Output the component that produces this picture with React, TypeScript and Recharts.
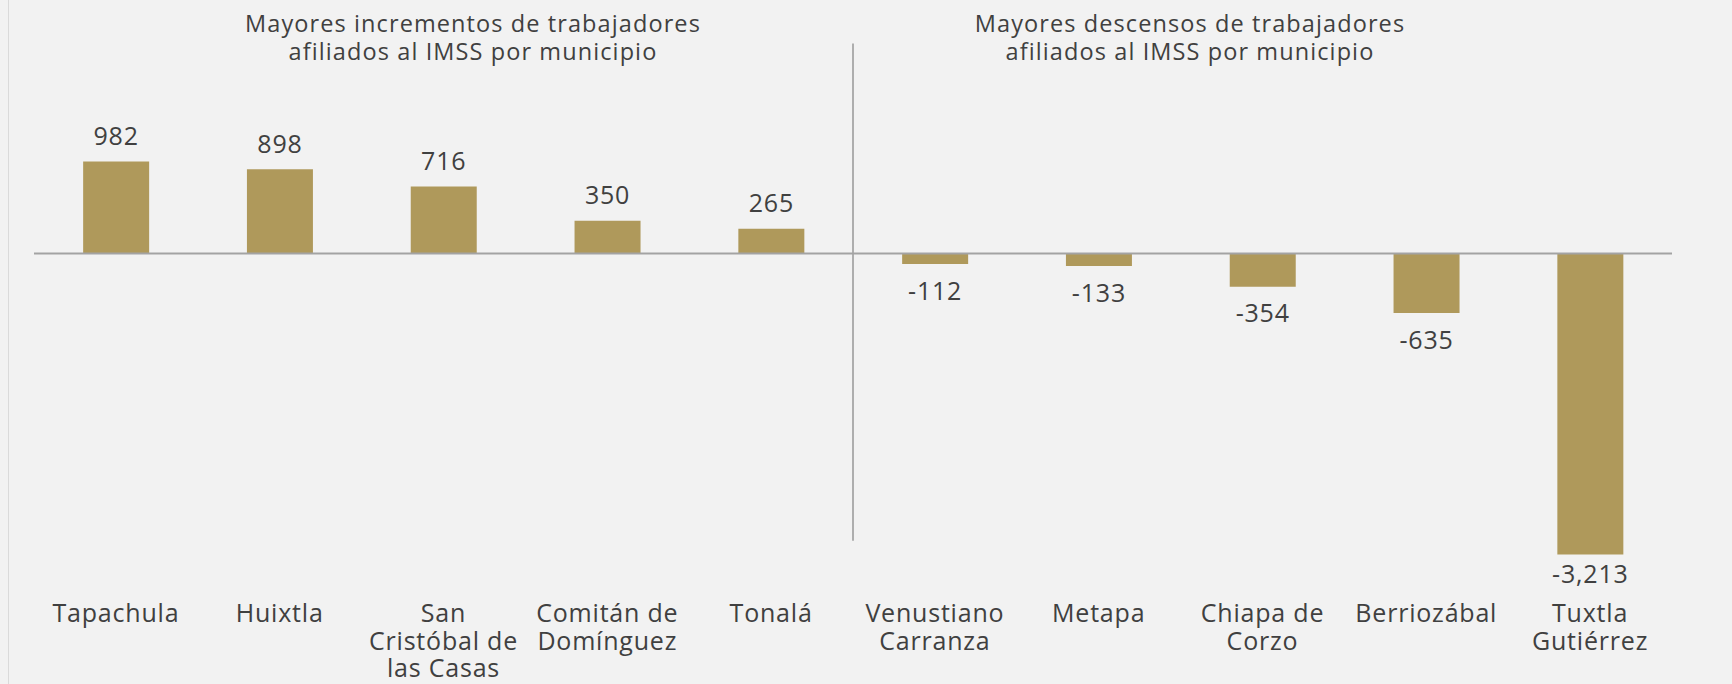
import { Bar, BarChart, LabelList, ReferenceLine, XAxis, YAxis } from "recharts";

// Variación de trabajadores afiliados al IMSS, municipios de Chiapas
const MUNICIPIOS = [
	"Tapachula",
	"Huixtla",
	"San Cristóbal de las Casas",
	"Comitán de Domínguez",
	"Tonalá",
	"Venustiano Carranza",
	"Metapa",
	"Chiapa de Corzo",
	"Berriozábal",
	"Tuxtla Gutiérrez",
];

// line breaks as they appear under each bar
const TICK_LINES = [
	["Tapachula"],
	["Huixtla"],
	["San", "Cristóbal de", "las Casas"],
	["Comitán de", "Domínguez"],
	["Tonalá"],
	["Venustiano", "Carranza"],
	["Metapa"],
	["Chiapa de", "Corzo"],
	["Berriozábal"],
	["Tuxtla", "Gutiérrez"],
];

const VARIACION = [982, 898, 716, 350, 265, -112, -133, -354, -635, -3213];

const TITULO_INCREMENTOS = ["Mayores incrementos de trabajadores", "afiliados al IMSS por municipio"];
const TITULO_DESCENSOS = ["Mayores descensos de trabajadores", "afiliados al IMSS por municipio"];

const data = MUNICIPIOS.map((name, i) => ({ name, value: VARIACION[i] }));

const W = 1732;
const H = 684;
const FONT = "'Open Sans', 'DejaVu Sans', sans-serif";
const TEXT = "#404040";
const GOLD = "#af995b";
// labels under negative bars never drop below this baseline (keeps -3,213 clear of the ticks)
const LOWEST_LABEL = 583;

function MunicipioTick(props: any) {
	const { x, y, payload } = props;
	const lines = TICK_LINES[MUNICIPIOS.indexOf(payload.value)] ?? [payload.value];
	return (
		<text x={x} y={y} textAnchor="middle" fill={TEXT} fontSize={25} letterSpacing={0.8} fontFamily={FONT}>
			{lines.map((line, i) => (
				<tspan key={line} x={x} dy={i === 0 ? 50 : 27.5}>
					{line}
				</tspan>
			))}
		</text>
	);
}

function ValueLabel(props: any) {
	const { x, y, width, height, value } = props;
	const top = Math.min(y, y + height);
	const bottom = Math.max(y, y + height);
	const ty = value >= 0 ? top - 16.7 : Math.min(bottom + 35.6, LOWEST_LABEL);
	return (
		<text
			x={x + width / 2}
			y={ty}
			textAnchor="middle"
			fill={TEXT}
			fontSize={25}
			letterSpacing={0.8}
			fontFamily={FONT}
		>
			{Number(value).toLocaleString("en-US")}
		</text>
	);
}

function Titles() {
	const blocks = [
		{ cx: 473, lines: TITULO_INCREMENTOS },
		{ cx: 1190, lines: TITULO_DESCENSOS },
	];
	return (
		<svg width={W} height={H} style={{ position: "absolute", left: 0, top: 0, pointerEvents: "none" }}>
			{blocks.map((b) =>
				b.lines.map((line, i) => (
					<text
						key={b.cx + line}
						x={b.cx}
						y={31.7 + i * 28.3}
						textAnchor="middle"
						fill={TEXT}
						fontSize={23.5}
						letterSpacing={1.1}
						fontFamily={FONT}
					>
						{line}
					</text>
				)),
			)}
		</svg>
	);
}

export default function App() {
	return (
		<div
			style={{
				position: "fixed",
				left: 0,
				top: 0,
				width: W,
				height: H,
				background: "#f2f2f2",
				overflow: "hidden",
			}}
		>
			<div style={{ position: "absolute", left: 8, top: 0, width: 1, height: H, background: "#dadada" }} />
			<div style={{ position: "absolute", left: 0, top: 0 }}>
				<BarChart
					width={W}
					height={H}
					data={data}
					margin={{ top: 38, right: 60, left: 34, bottom: 0 }}
					barCategoryGap="30%"
				>
					<XAxis
						dataKey="name"
						height={112}
						axisLine={false}
						tickLine={false}
						tickSize={0}
						tickMargin={0}
						interval={0}
						tick={<MunicipioTick />}
					/>
					<YAxis hide domain={[-3400, 2300]} />
					<ReferenceLine
						segment={[
							{ x: MUNICIPIOS[5], y: 2241 },
							{ x: MUNICIPIOS[5], y: -3067 },
						]}
						position="start"
						stroke="#808080"
						strokeWidth={1.2}
					/>
					<Bar dataKey="value" fill={GOLD} isAnimationActive={false}>
						<LabelList dataKey="value" content={<ValueLabel />} />
					</Bar>
					<ReferenceLine y={0} stroke="#a3a3a3" strokeWidth={2} />
				</BarChart>
			</div>
			<Titles />
		</div>
	);
}
